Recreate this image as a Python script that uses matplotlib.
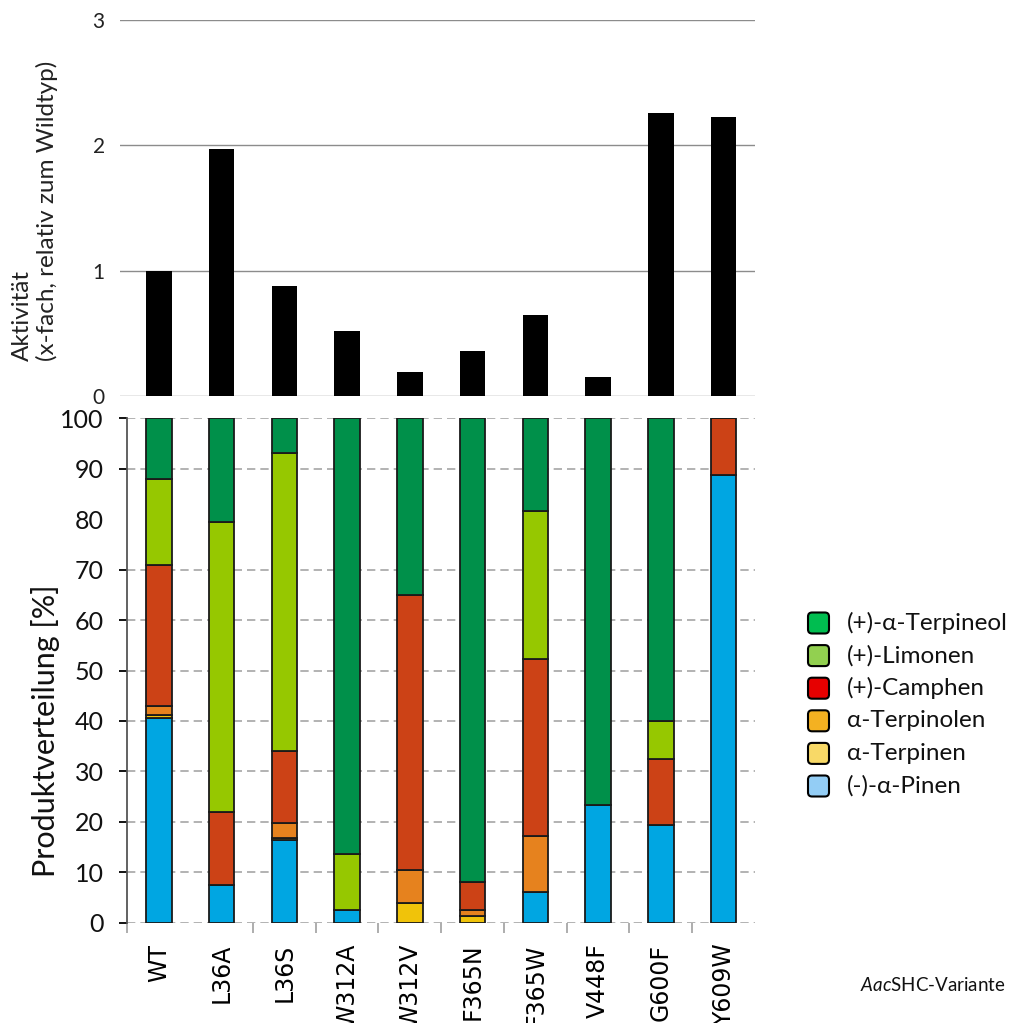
import matplotlib
matplotlib.use("Agg")
import matplotlib.pyplot as plt
from matplotlib.patches import FancyBboxPatch
from matplotlib.font_manager import FontProperties
import numpy as np

# ---- data -------------------------------------------------------------
variants = ["WT", "L36A", "L36S", "W312A", "W312V", "F365N", "F365W",
            "V448F", "G600F", "Y609W"]

# relative activity (x-fold of wild type)
activity = [1.00, 1.97, 0.88, 0.52, 0.19, 0.36, 0.65, 0.15, 2.26, 2.23]

# product distribution [%], stacked bottom -> top
pinen      = [40.5,  7.5, 16.3,  2.6,  0.0,  0.0,  6.0, 23.4, 19.4, 88.7]
terpinen   = [ 0.6,  0.0,  0.4,  0.0,  4.0,  1.4,  0.0,  0.0,  0.0,  0.0]
terpinolen = [ 1.8,  0.0,  3.1,  0.0,  6.5,  1.2, 11.1,  0.0,  0.0,  0.0]
camphen    = [28.1, 14.5, 14.3,  0.0, 54.4,  5.5, 35.1,  0.0, 13.0, 11.3]
limonen    = [17.0, 57.4, 59.0, 11.1,  0.0,  0.0, 29.4,  0.0,  7.5,  0.0]
terpineol  = [12.0, 20.6,  6.9, 86.3, 35.1, 91.9, 18.4, 76.6, 60.1,  0.0]

product_names = ["(-)-α-Pinen", "α-Terpinen", "α-Terpinolen",
                 "(+)-Camphen", "(+)-Limonen", "(+)-α-Terpineol"]
bar_colors = ["#00A6E2", "#F0C30A", "#E6821E", "#CC4216", "#96C800", "#00904A"]
legend_colors = ["#93CDF5", "#F8D967", "#F4B121", "#E60000", "#92D050", "#00BD50"]

activity_ticks = [0, 1, 2, 3]
percent_ticks = list(range(0, 101, 10))

# ---- figure -----------------------------------------------------------
W, H = 1012, 1023
plt.rcParams["font.family"] = ["Lato", "DejaVu Sans"]
plt.rcParams["mathtext.fontset"] = "custom"
plt.rcParams["mathtext.rm"] = "Lato"
plt.rcParams["mathtext.it"] = "Lato:italic"
fig = plt.figure(figsize=(W / 100, H / 100), dpi=100)

x = np.arange(len(variants))
bar_w = 0.41

def fx(px):
    return px / W

def fy(py):
    return 1 - py / H

# upper panel: activity
ax_top = fig.add_axes([fx(120), fy(396), fx(755) - fx(120), fy(20) - fy(396)])
ax_top.bar(x, activity, width=bar_w, color="black", zorder=3)
ax_top.set_xlim(-0.5 - 7.5 / 62.75, 9.5)
ax_top.set_ylim(0, 3)
ax_top.set_yticks(activity_ticks)
ax_top.set_yticklabels([str(t) for t in activity_ticks], fontsize=15, color="#222222")
ax_top.tick_params(axis="y", length=0, pad=11)
ax_top.set_xticks([])
ax_top.grid(axis="y", color="#8C8C8C", linewidth=1.0, zorder=0)
for s in ax_top.spines.values():
    s.set_visible(False)

fig.text(fx(35), fy(361), "Aktivität\n(x-fach, relativ zum Wildtyp)",
         rotation=90, ha="center", va="bottom", multialignment="left",
         fontsize=17.5, color="#222222", linespacing=1.15)

# lower panel: product distribution
ax = fig.add_axes([fx(127.5), fy(922.7), fx(755) - fx(127.5), fy(418.3) - fy(922.7)])
stack = [pinen, terpinen, terpinolen, camphen, limonen, terpineol]
bottom = np.zeros(len(variants))
for vals, col in zip(stack, bar_colors):
    vals = np.array(vals)
    ax.bar(x, vals, width=bar_w, bottom=bottom, color=col,
           edgecolor="#1A1A1A", linewidth=1.3, zorder=3)
    bottom += vals

ax.set_xlim(-0.5, 9.5)
ax.set_ylim(0, 100)
ax.set_yticks(percent_ticks)
ax.set_yticklabels([str(t) for t in percent_ticks], fontsize=18, color="#111111")
ax.tick_params(axis="y", length=6, width=1.3, color="black", pad=11)
ax.grid(axis="y", color="#A6A6A6", linestyle=(0, (5, 3)), linewidth=1.2, zorder=0)
# the 80 % line carries neither grid line nor tick mark
ax.yaxis.get_gridlines()[8].set_visible(False)
ax.yaxis.get_major_ticks()[8].tick1line.set_visible(False)

xlabel_font = FontProperties(family="DejaVu Sans", size=17)
ax.set_xticks(x)
ax.set_xticklabels(variants, rotation=90, fontproperties=xlabel_font,
                   color="black", va="top")
ax.tick_params(axis="x", length=0, pad=15)
ax.set_xticks([-0.5] + list(np.arange(1.5, 9, 1.0)), minor=True)
ax.tick_params(axis="x", which="minor", length=7, width=1.2, color="#A0A0A0")

for side in ["top", "right", "bottom"]:
    ax.spines[side].set_visible(False)
ax.spines["left"].set_color("#555555")
ax.spines["left"].set_linewidth(1.3)

fig.text(fx(46), fy(731), "Produktverteilung [%]", rotation=90,
         ha="center", va="center", fontsize=22, color="#111111")

# axis caption with the italic organism prefix
fig.text(fx(860), fy(985), r"$\mathit{Aac}$SHC-Variante", fontsize=13.5,
         ha="left", va="center", color="#111111")

# legend with rounded swatches
row_h = 32.6
for i, (name, col) in enumerate(zip(product_names[::-1], legend_colors[::-1])):
    cy = 623 + i * row_h
    box = FancyBboxPatch((fx(808), fy(cy + 10.5)), fx(21), fy(cy - 10.5) - fy(cy + 10.5),
                         boxstyle="round,pad=0,rounding_size=0.004",
                         transform=fig.transFigure, facecolor=col,
                         edgecolor="black", linewidth=1.5)
    fig.add_artist(box)
    fig.text(fx(847), fy(cy), name, ha="left", va="center",
             fontsize=17.5, color="#111111")

fig.savefig("out.png", dpi=100)
